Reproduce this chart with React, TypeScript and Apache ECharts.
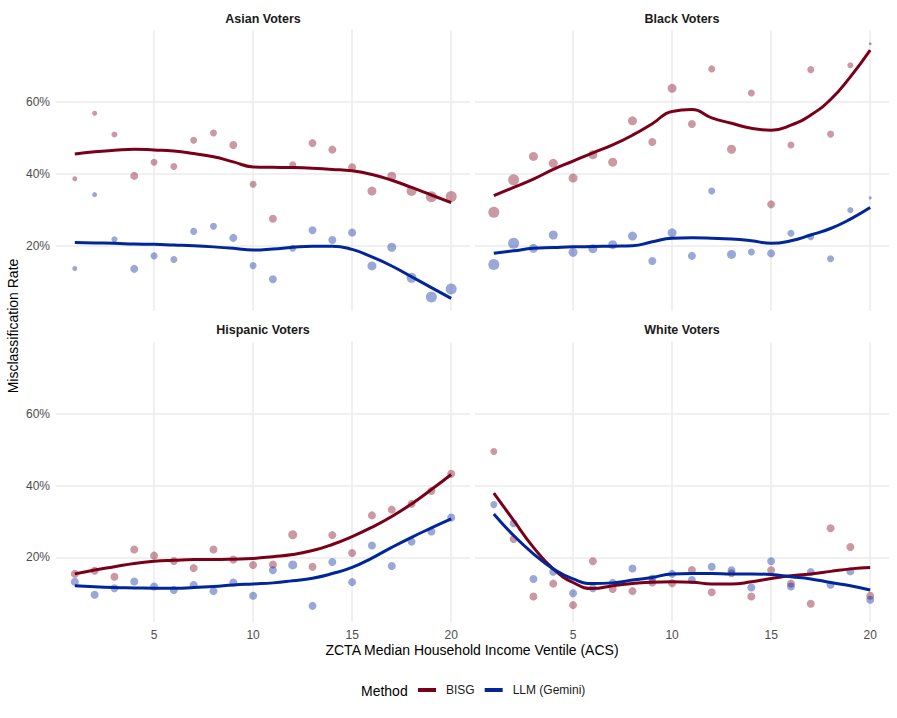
import React, { useEffect, useRef } from "react";
import * as echarts from "echarts";

const ventiles = [1, 2, 3, 4, 5, 6, 7, 8, 9, 10, 11, 12, 13, 14, 15, 16, 17, 18, 19, 20];
const xTicks = [5, 10, 15, 20];
const yTicks = [20, 40, 60];

const panels = ["Asian Voters", "Black Voters", "Hispanic Voters", "White Voters"];
const methods = ["BISG", "LLM (Gemini)"];

// observed misclassification rates (%)
const asianBisg = [38.7, 56.9, 51.0, 39.5, 43.3, 42.1, 49.4, 51.4, 48.1, 37.2, 27.6, 42.6, 48.6, 46.8, 41.9, 35.3, 39.4, 35.3, 33.7, 33.8];
const asianLlm = [13.8, 34.3, 21.9, 13.7, 17.3, 16.3, 24.1, 25.5, 22.3, 14.6, 10.8, 19.4, 24.4, 21.7, 23.8, 14.5, 19.7, 11.2, 5.9, 8.1];
const blackBisg = [29.4, 38.4, 44.9, 43.0, 38.9, 45.4, 43.3, 54.8, 48.9, 63.8, 53.9, 69.2, 46.9, 62.5, 31.6, 48.1, 69.0, 51.1, 70.2, 76.2];
const blackLlm = [14.9, 20.8, 19.4, 23.1, 18.3, 19.3, 20.4, 22.8, 15.9, 23.7, 17.3, 35.3, 17.7, 18.4, 18.0, 23.6, 22.6, 16.5, 30.0, 33.4];
const hispBisg = [15.4, 16.3, 14.6, 22.2, 20.5, 19.0, 17.0, 22.2, 19.4, 17.9, 18.0, 26.3, 17.4, 26.2, 21.2, 31.7, 33.3, 34.9, 38.5, 43.3];
const hispLlm = [13.2, 9.6, 11.4, 13.3, 11.9, 10.9, 12.3, 10.6, 13.0, 9.3, 16.4, 17.9, 6.5, 18.7, 13.1, 23.3, 17.6, 24.4, 27.2, 31.1];
const whiteBisg = [49.5, 25.1, 9.1, 12.7, 6.7, 18.9, 11.2, 10.6, 13.0, 12.8, 16.5, 10.3, 15.6, 9.1, 16.4, 12.7, 7.1, 28.1, 22.9, 9.3];
const whiteLlm = [34.7, 29.5, 14.0, 16.0, 10.0, 11.4, 12.9, 16.9, 14.1, 15.4, 13.7, 17.4, 16.4, 11.6, 18.9, 11.9, 15.9, 12.4, 16.1, 8.2];

// smoothed trend (%)
const asianBisgFit = [45.6, 46.2, 46.6, 46.9, 46.7, 46.4, 45.7, 44.8, 43.4, 42.0, 41.9, 41.8, 41.6, 41.3, 40.9, 39.9, 38.3, 36.3, 34.2, 32.1];
const asianLlmFit = [21.0, 20.9, 20.8, 20.6, 20.5, 20.3, 20.1, 19.8, 19.4, 18.9, 19.2, 19.7, 20.0, 20.0, 19.1, 17.0, 14.5, 11.5, 8.5, 5.5];
const blackBisgFit = [34.0, 36.3, 38.6, 41.3, 43.6, 45.9, 48.1, 50.8, 54.0, 57.4, 57.9, 55.6, 54.1, 52.7, 52.2, 53.6, 56.4, 60.7, 67.0, 74.4];
const blackLlmFit = [18.0, 18.7, 19.4, 19.6, 19.8, 19.9, 20.0, 20.1, 21.2, 22.2, 22.3, 22.2, 22.0, 21.5, 20.8, 21.5, 23.1, 24.9, 27.5, 30.7];
const hispBisgFit = [15.4, 16.5, 17.4, 18.3, 18.9, 19.2, 19.4, 19.4, 19.5, 19.7, 20.2, 20.8, 21.9, 23.6, 25.8, 28.4, 31.4, 34.9, 38.9, 43.1];
const hispLlmFit = [12.1, 11.8, 11.6, 11.5, 11.4, 11.4, 11.6, 11.9, 12.3, 12.6, 12.9, 13.5, 14.2, 15.5, 17.2, 19.8, 22.8, 25.6, 28.2, 30.7];
const whiteBisgFit = [37.9, 30.3, 22.8, 16.8, 13.0, 11.3, 12.1, 12.7, 13.1, 13.2, 13.1, 12.6, 12.6, 13.2, 14.1, 14.9, 15.4, 16.1, 16.8, 17.2];
const whiteLlmFit = [32.1, 26.1, 21.0, 16.8, 14.0, 12.7, 12.9, 13.7, 14.4, 15.4, 15.5, 15.5, 15.4, 15.4, 15.2, 14.6, 14.0, 13.0, 12.1, 10.9];

// relative sample weight per ventile (drives point size)
const asianWeight = [5, 5, 6, 8, 7, 7, 7, 7, 8, 7, 8, 7, 8, 8, 8, 9, 9, 10, 11, 11];
const blackWeight = [11, 11, 9, 9, 9, 9, 9, 9, 8, 9, 8, 7, 9, 7, 8, 7, 7, 7, 6, 3];
const hispWeight = [8, 8, 8, 8, 8, 8, 8, 8, 8, 8, 8, 9, 8, 8, 8, 8, 8, 8, 8, 8];
const whiteWeight = [7, 8, 8, 8, 8, 8, 8, 8, 8, 8, 8, 8, 8, 8, 8, 8, 8, 8, 8, 8];

const FONT = "'Liberation Sans', Arial, Helvetica, sans-serif";
const BISG_COLOR = "#7A0019";
const LLM_COLOR = "#00269A";

export default function App() {
  const ref = useRef<HTMLDivElement>(null);

  useEffect(() => {
    if (!ref.current) return;
    const chart = echarts.init(ref.current, undefined, { renderer: "svg" });

    const panelData = [
      { bisg: asianBisg, llm: asianLlm, bfit: asianBisgFit, lfit: asianLlmFit, w: asianWeight },
      { bisg: blackBisg, llm: blackLlm, bfit: blackBisgFit, lfit: blackLlmFit, w: blackWeight },
      { bisg: hispBisg, llm: hispLlm, bfit: hispBisgFit, lfit: hispLlmFit, w: hispWeight },
      { bisg: whiteBisg, llm: whiteLlm, bfit: whiteBisgFit, lfit: whiteLlmFit, w: whiteWeight },
    ];

    const gridBoxes = [
      { left: 56, top: 30, width: 414, height: 281 },
      { left: 475, top: 30, width: 414, height: 281 },
      { left: 56, top: 342, width: 414, height: 280 },
      { left: 475, top: 342, width: 414, height: 280 },
    ];

    const grid = gridBoxes.map((g) => ({ ...g, containLabel: false }));

    const xAxis = gridBoxes.map((_, i) => ({
      type: "value",
      gridIndex: i,
      min: 0.05,
      max: 20.95,
      axisLine: { show: false },
      axisTick: { show: false, customValues: xTicks },
      axisLabel: {
        show: i >= 2,
        customValues: xTicks,
        color: "#4D4D4D",
        fontSize: 12,
        fontFamily: FONT,
        margin: 7,
      },
      splitLine: { show: true, lineStyle: { color: "#EBEBEB", width: 1.5 } },
    }));

    const yAxis = gridBoxes.map((_, i) => ({
      type: "value",
      gridIndex: i,
      min: 2,
      max: 80,
      axisLine: { show: false },
      axisTick: { show: false, customValues: yTicks },
      axisLabel: {
        show: i % 2 === 0,
        customValues: yTicks,
        formatter: "{value}%",
        color: "#4D4D4D",
        fontSize: 12,
        fontFamily: FONT,
        margin: 6,
      },
      splitLine: { show: true, lineStyle: { color: "#EBEBEB", width: 1.5 } },
    }));

    const series: any[] = [];
    panelData.forEach((p, i) => {
      series.push({
        type: "scatter",
        name: methods[0],
        xAxisIndex: i,
        yAxisIndex: i,
        data: ventiles.map((x, k) => [x, p.bisg[k], p.w[k]]),
        symbolSize: (v: number[]) => v[2],
        itemStyle: { color: BISG_COLOR, opacity: 0.4 },
        z: 2,
      });
      series.push({
        type: "scatter",
        name: methods[1],
        xAxisIndex: i,
        yAxisIndex: i,
        data: ventiles.map((x, k) => [x, p.llm[k], p.w[k]]),
        symbolSize: (v: number[]) => v[2],
        itemStyle: { color: LLM_COLOR, opacity: 0.4 },
        z: 2,
      });
      series.push({
        type: "line",
        name: methods[0],
        xAxisIndex: i,
        yAxisIndex: i,
        data: ventiles.map((x, k) => [x, p.bfit[k]]),
        smooth: 0.5,
        showSymbol: false,
        lineStyle: { color: BISG_COLOR, width: 3 },
        itemStyle: { color: BISG_COLOR },
        z: 3,
      });
      series.push({
        type: "line",
        name: methods[1],
        xAxisIndex: i,
        yAxisIndex: i,
        data: ventiles.map((x, k) => [x, p.lfit[k]]),
        smooth: 0.5,
        showSymbol: false,
        lineStyle: { color: LLM_COLOR, width: 3 },
        itemStyle: { color: LLM_COLOR },
        z: 3,
      });
    });

    const stripCenters = [
      [263, 19],
      [682, 19],
      [263, 330],
      [682, 330],
    ];

    const graphic: any[] = panels.map((t, i) => ({
      type: "text",
      x: stripCenters[i][0],
      y: stripCenters[i][1],
      style: {
        text: t,
        fontSize: 12.5,
        fontWeight: "bold",
        fontFamily: FONT,
        fill: "#1A1A1A",
        align: "center",
        verticalAlign: "middle",
      },
    }));
    graphic.push({
      type: "text",
      x: 472,
      y: 650,
      style: {
        text: "ZCTA Median Household Income Ventile (ACS)",
        fontSize: 14,
        fontFamily: FONT,
        fill: "#000000",
        align: "center",
        verticalAlign: "middle",
      },
    });
    graphic.push({
      type: "text",
      x: 13,
      y: 326,
      rotation: Math.PI / 2,
      style: {
        text: "Misclassification Rate",
        fontSize: 14,
        fontFamily: FONT,
        fill: "#000000",
        align: "center",
        verticalAlign: "middle",
      },
    });
    graphic.push({
      type: "text",
      x: 361,
      y: 691,
      style: {
        text: "Method",
        fontSize: 14,
        fontFamily: FONT,
        fill: "#000000",
        align: "left",
        verticalAlign: "middle",
      },
    });

    chart.setOption({
      animation: false,
      backgroundColor: "#FFFFFF",
      grid,
      xAxis,
      yAxis,
      series,
      graphic,
      legend: {
        left: 418,
        top: 684,
        padding: 0,
        orient: "horizontal",
        itemWidth: 18,
        itemHeight: 4,
        itemGap: 10,
        selectedMode: false,
        textStyle: {
          fontSize: 12,
          fontFamily: FONT,
          color: "#1A1A1A",
          padding: [0, 0, 0, 5],
        },
        data: [
          { name: methods[0], icon: "rect", itemStyle: { color: BISG_COLOR, opacity: 1 } },
          { name: methods[1], icon: "rect", itemStyle: { color: LLM_COLOR, opacity: 1 } },
        ],
      },
    });

    return () => chart.dispose();
  }, []);

  return (
    <div
      ref={ref}
      style={{ position: "fixed", left: 0, top: 0, width: 897, height: 718 }}
    />
  );
}
